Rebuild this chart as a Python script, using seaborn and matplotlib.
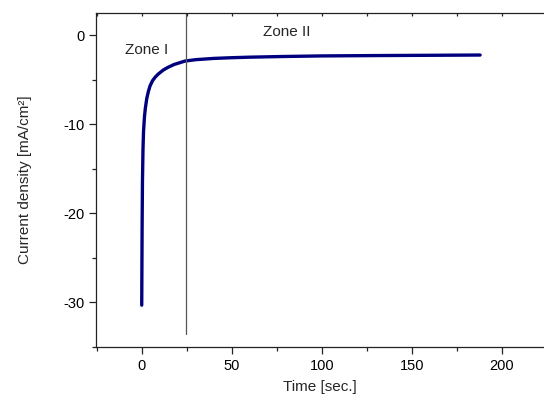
import numpy as np
import pandas as pd
import seaborn as sns
import matplotlib.pyplot as plt
from matplotlib.ticker import MultipleLocator

# values
time_s = [0, 0.2, 0.4, 0.7, 1.0, 1.5, 2.0, 2.8, 3.7, 4.6, 6, 7.5, 9.2, 12,
          14.6, 18, 24, 30, 40, 50, 60, 80, 100, 130, 160, 188]
current = [-30.3, -22.0, -16.5, -12.8, -10.8, -9.2, -8.2, -7.1, -6.3, -5.7,
           -5.1, -4.7, -4.35, -3.9, -3.6, -3.28, -2.9, -2.74, -2.6, -2.52,
           -2.46, -2.38, -2.32, -2.28, -2.25, -2.22]
zone_split = 24.5
zone_labels = ["Zone I", "Zone II"]

df = pd.DataFrame({"time": time_s, "current": current})

sns.set_style("ticks")
plt.rcParams['font.family'] = ['Liberation Sans', 'DejaVu Sans']
plt.rcParams['axes.unicode_minus'] = False

fig = plt.figure(figsize=(5.44, 3.96), dpi=100)
ax = fig.add_axes([0.1765, 0.1237, 0.8235, 0.8435])

sns.lineplot(data=df, x="time", y="current", ax=ax, color="#00007f",
             linewidth=2.4, sort=False, estimator=None)

ax.plot([zone_split, zone_split], [-33.5, 2.5], color="#555555", linewidth=0.9)

ax.text(-9.3, -1.6, zone_labels[0], fontsize=11, va="center", ha="left")
ax.text(67.4, 0.35, zone_labels[1], fontsize=11, va="center", ha="left")

ax.set_xlim(-25.4, 223.5)
ax.set_ylim(-35, 2.5)
ax.xaxis.set_major_locator(MultipleLocator(50))
ax.xaxis.set_minor_locator(MultipleLocator(25))
ax.yaxis.set_major_locator(MultipleLocator(10))
ax.yaxis.set_minor_locator(MultipleLocator(5))

for s in ["left", "bottom", "top"]:
    ax.spines[s].set_linewidth(0.9)
    ax.spines[s].set_color("#222222")
ax.spines["right"].set_visible(False)

ax.tick_params(axis="both", which="major", direction="out", length=5, width=0.9,
               labelsize=10.5, colors="#222222", labelcolor="black")
ax.tick_params(axis="both", which="minor", direction="out", length=3, width=0.9,
               colors="#222222")
sec = ax.secondary_xaxis("top")
sec.xaxis.set_major_locator(MultipleLocator(25))
sec.tick_params(direction="in", length=2, width=0.9, labeltop=False)
sec.spines["top"].set_visible(False)

ax.set_xlabel("Time [sec.]", fontsize=11, labelpad=5)
ax.set_ylabel("Current density [mA/cm²]", fontsize=11, labelpad=22)

fig.savefig("out.png", dpi=100)
